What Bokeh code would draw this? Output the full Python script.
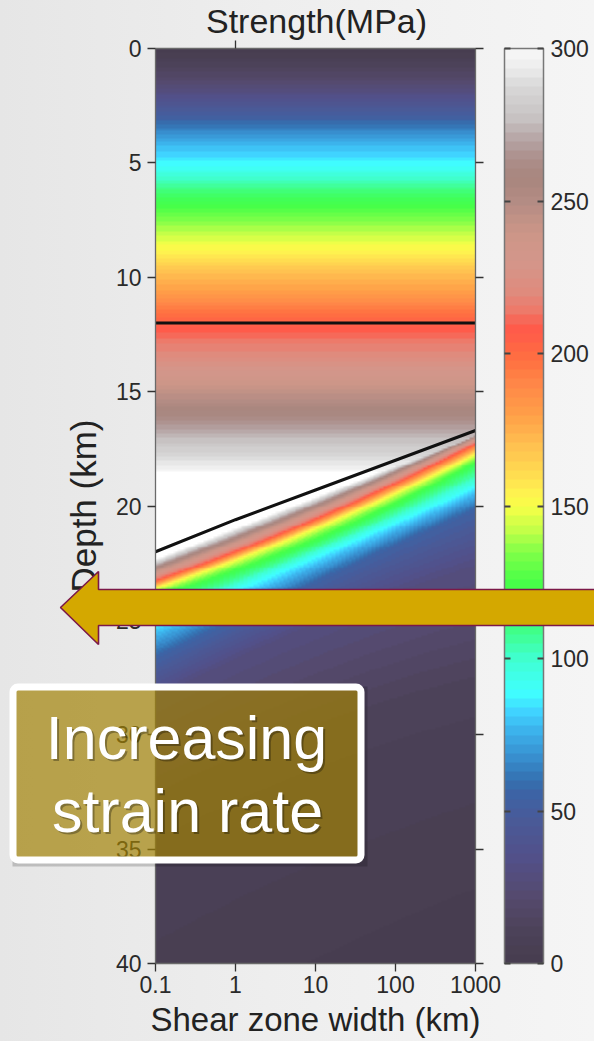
import numpy as np
from bokeh.plotting import figure
from bokeh.models import (Range1d, LinearScale, LinearAxis, LogAxis, FixedTicker,
                          LinearColorMapper, CustomJSTickFormatter, Grid)
from bokeh.core.properties import value
from bokeh.embed import file_html
from bokeh.resources import INLINE

# ---------------- data ----------------
width_ticks = [0.1, 1, 10, 100, 1000]
depth_ticks = [0, 5, 10, 15, 20, 25, 30, 35, 40]
cbar_ticks = [0, 50, 100, 150, 200, 250, 300]

# brittle (frictional) strength profile, depth (km) -> MPa
brittle_depth_km = [0.0, 1.5, 2.7, 3.2, 3.7, 4.4, 5.1, 5.9, 6.9, 7.9, 8.8, 9.8,
                    10.7, 11.4, 12.2, 13.5, 15.0, 15.8, 16.5, 17.5, 18.3, 18.6, 18.8]
brittle_strength_mpa = [0, 22, 47, 57, 68, 80, 89, 105, 125, 140, 153, 170,
                        182, 195, 208, 222, 244, 257, 268, 283, 295, 302, 320]

# ductile strength: depth (km) at which each strength level is reached, per shear zone width
ductile_width_km = [0.1, 1, 10, 100, 1000]
ductile_levels_mpa = [320, 300, 250, 210, 150, 120, 90, 55, 30, 10, 0]
ductile_depth_w0_1 = [22.0, 22.35, 22.8, 23.25, 23.6, 24.0, 25.1, 26.6, 28.3, 33.0, 48.0]
ductile_depth_w1 = [20.6, 20.95, 21.4, 21.9, 22.3, 22.8, 23.5, 25.1, 26.9, 31.5, 46.0]
ductile_depth_w10 = [19.3, 19.65, 20.2, 20.7, 21.15, 21.7, 22.3, 23.2, 24.9, 30.0, 44.0]
ductile_depth_w100 = [18.0, 18.25, 18.5, 18.85, 19.3, 19.8, 20.75, 21.75, 23.8, 28.9, 42.0]
ductile_depth_w1000 = [16.7, 16.85, 17.0, 17.3, 17.8, 18.2, 19.1, 20.15, 22.6, 28.0, 40.5]

# black lines
transition_width_km = [0.1, 1, 10, 100, 1000]
transition_depth_km = [22.0, 20.6, 19.3, 18.0, 16.7]
horizon_width_km = [0.1, 1000]
horizon_depth_km = [12.0, 12.0]

# colour scale anchors (MPa, colour)
cmap_values = [0, 10, 22, 35, 47, 55, 60, 68, 76, 82, 89, 100, 108, 118, 125, 135, 142,
               150, 155, 162, 170, 180, 190, 198, 206, 209, 214, 220, 230, 240, 250, 258,
               264, 270, 278, 288, 294, 300]
cmap_colors = ["#463c4e", "#4c4258", "#554a6e", "#52508a", "#4a5a98", "#3e62a4", "#3470b0",
               "#3890d0", "#3cb0ea", "#40d0ff", "#40ffff", "#40ffd0", "#40ff90", "#40ff58",
               "#48ff48", "#80ff48", "#c0ff48", "#f8ff48", "#fff050", "#ffd850", "#ffc050",
               "#ffa048", "#ff8848", "#ff7040", "#ff5e48", "#ff5a4a", "#ee7868", "#e08a7c",
               "#d4968a", "#cc9688", "#b48c84", "#a8867e", "#ac8e8a", "#b4a2a2", "#c8c4c4",
               "#d8d8d8", "#ececec", "#f8f8f8"]

# ---------------- layout constants ----------------
W, H = 594, 1041
FX0, FX1 = 155, 475      # frame pixels of x = 0.1 and x = 1000
FY0, FY1 = 48, 963       # frame pixels of depth 0 and 40 / cbar 300 and 0
ppd = (FX1 - FX0) / 4.0
x_lo = 10 ** (-1 - FX0 / ppd)
x_hi = 10 ** (-1 + (W - FX0) / ppd)
ppk = (FY1 - FY0) / 40.0
y_top = -FY0 / ppk
y_bot = 40 + (H - FY1) / ppk
ppm = (FY1 - FY0) / 300.0
cb_top = 300 + FY0 / ppm
cb_bot = -(H - FY1) / ppm
CB_L, CB_R = 504, 543

# ---------------- palette ----------------
def hex2rgb(h):
    return np.array([int(h[i:i + 2], 16) for i in (1, 3, 5)], dtype=float)

NPAL = 100
anch = np.array([hex2rgb(c) for c in cmap_colors])
mids = (np.arange(NPAL) + 0.5) * 300.0 / NPAL
palette = []
for m in mids:
    rgb = [np.interp(m, cmap_values, anch[:, k]) for k in range(3)]
    palette.append("#%02x%02x%02x" % tuple(int(round(v)) for v in rgb))
mapper = LinearColorMapper(palette=palette, low=0, high=300, high_color="#ffffff",
                           low_color=palette[0])

# ---------------- field (read contour depths, smoothed across width) ----------------
NX, NZ = 160, 480
lw = -1 + (np.arange(NX) + 0.5) * 4.0 / NX
zz = (np.arange(NZ) + 0.5) * 40.0 / NZ
Dtab = np.array([ductile_depth_w0_1, ductile_depth_w1, ductile_depth_w10,
                 ductile_depth_w100, ductile_depth_w1000])
lnodes = np.log10(ductile_width_km)
fits = [np.polyfit(lnodes, Dtab[:, k], 2) for k in range(Dtab.shape[1])]
brit = np.interp(zz, brittle_depth_km, brittle_strength_mpa)
field = np.empty((NZ, NX), dtype=np.float32)
for i, l in enumerate(lw):
    d = np.maximum.accumulate(np.array([np.polyval(f, l) for f in fits]))
    duct = np.interp(zz, d, ductile_levels_mpa)
    field[:, i] = np.minimum(brit, duct)

cbar_img = np.linspace(0, 300, 601, dtype=np.float32).reshape(-1, 1)

# ---------------- figure ----------------
p = figure(width=W, height=H, x_axis_type="log",
           x_range=Range1d(x_lo, x_hi), y_range=Range1d(y_bot, y_top),
           output_backend="svg", toolbar_location=None, min_border=0,
           x_axis_location=None, y_axis_location=None)
p.center = [r for r in p.center if not isinstance(r, Grid)]
p.outline_line_color = None
p.background_fill_color = None
p.border_fill_color = None
p.styles = {"background": "linear-gradient(90deg, #e6e6e6 0%, #eeeeee 45%, #f5f5f5 100%)"}

p.extra_x_ranges = {"px": Range1d(0, W)}
p.extra_x_scales = {"px": LinearScale()}
p.extra_y_ranges = {"py": Range1d(H, 0), "cb": Range1d(cb_bot, cb_top)}
p.extra_y_scales = {"py": LinearScale(), "cb": LinearScale()}

# main image
p.image(image=[field], x=0.1, y=0, dw=1000 - 0.1, dh=40, color_mapper=mapper)
p.line(horizon_width_km, horizon_depth_km, line_color="#111111", line_width=3)
p.line(transition_width_km, transition_depth_km, line_color="#111111", line_width=3)

# colour bar
p.image(image=[cbar_img], x=CB_L, y=0, dw=CB_R - CB_L, dh=300,
        x_range_name="px", y_range_name="cb", color_mapper=mapper)
p.quad(left=[CB_L], right=[CB_R], bottom=[0], top=[300], x_range_name="px",
       y_range_name="cb", fill_color=None, line_color="#777777", line_width=1.5)

FONT = "Liberation Sans"
TICK_FS = "23px"
LAB_FS = "35px"

def style(ax, labels=True):
    ax.axis_line_color = "#6a6a6a"
    ax.axis_line_width = 1.3
    ax.major_tick_line_color = "#333333"
    ax.major_tick_line_width = 1.3
    ax.minor_tick_line_color = None
    ax.major_label_text_font = FONT
    ax.major_label_text_font_size = TICK_FS
    ax.major_label_text_color = "#2a2a2a" if labels else None
    ax.axis_label_text_font = FONT
    ax.axis_label_text_font_size = LAB_FS
    ax.axis_label_text_font_style = "normal"
    ax.axis_label_text_color = "#222222"

left = LinearAxis(fixed_location=0.1, ticker=FixedTicker(ticks=depth_ticks), bounds=(0, 40),
                  major_tick_out=8, major_tick_in=0, major_label_standoff=6,
                  axis_label="Depth (km)", axis_label_standoff=10)
style(left)
p.add_layout(left, "left")

right = LinearAxis(fixed_location=1000, ticker=FixedTicker(ticks=depth_ticks), bounds=(0, 40),
                   major_tick_out=8, major_tick_in=0)
style(right, labels=False)
p.add_layout(right, "right")

bottom = LogAxis(fixed_location=40, ticker=FixedTicker(ticks=width_ticks), bounds=(0.1, 1000),
                 formatter=CustomJSTickFormatter(code="return String(tick)"),
                 major_tick_out=8, major_tick_in=0, major_label_standoff=4,
                 axis_label="Shear zone width (km)", axis_label_standoff=5)
style(bottom)
bottom.axis_label_text_font_size = "33px"
p.add_layout(bottom, "below")

top = LogAxis(fixed_location=0, ticker=FixedTicker(ticks=[1]), bounds=(0.1, 1000),
              major_tick_out=8, major_tick_in=0)
style(top, labels=False)
p.add_layout(top, "above")

cbr = LinearAxis(x_range_name="px", y_range_name="cb", fixed_location=CB_R,
                 ticker=FixedTicker(ticks=cbar_ticks), major_tick_in=6, major_tick_out=0,
                 major_label_standoff=7)
style(cbr)
cbr.axis_line_color = None
cbr.major_tick_line_color = "#444444"
cbr.major_tick_line_width = 2
p.add_layout(cbr, "right")

cbl = LinearAxis(x_range_name="px", y_range_name="cb", fixed_location=CB_L,
                 ticker=FixedTicker(ticks=cbar_ticks), major_tick_in=6, major_tick_out=0)
style(cbl, labels=False)
cbl.axis_line_color = None
cbl.major_tick_line_color = "#444444"
cbl.major_tick_line_width = 2
p.add_layout(cbl, "left")

# title
p.text(x=[316], y=[20], text=["Strength(MPa)"], x_range_name="px", y_range_name="py",
       text_font=value(FONT), text_font_size="34px", text_align="center",
       text_baseline="middle", text_color="#222222")

# overlay: arrow
arrow_x = [60, 98, 98, 600, 600, 98, 98]
arrow_y = [607, 571, 589, 589, 625, 625, 644]
p.patch(arrow_x, arrow_y, x_range_name="px", y_range_name="py", fill_color="#d4a800",
        line_color="#7b1848", line_width=1.6, level="overlay")

# overlay: text box
p.quad(left=[12], right=[367], top=[686], bottom=[866], x_range_name="px", y_range_name="py",
       fill_color="#000000", fill_alpha=0.18, line_color=None, level="overlay")
p.quad(left=[12.5], right=[360.5], top=[686.5], bottom=[859.5], x_range_name="px",
       y_range_name="py", fill_color="#b38f05", fill_alpha=0.62, line_color="#ffffff",
       line_width=7, border_radius=5, level="overlay")
for dx, dy, col, a in [(2, 2, "#000000", 0.3), (0, 0, "#ffffff", 1.0)]:
    p.text(x=[186 + dx, 187 + dx], y=[737 + dy, 810 + dy], text=["Increasing", "strain rate"],
           x_range_name="px", y_range_name="py", text_font=value(FONT),
           text_font_size="61px", text_align="center", text_baseline="middle",
           text_color=col, text_alpha=a, level="overlay")

open("out.html", "w").write(file_html(p, INLINE))
